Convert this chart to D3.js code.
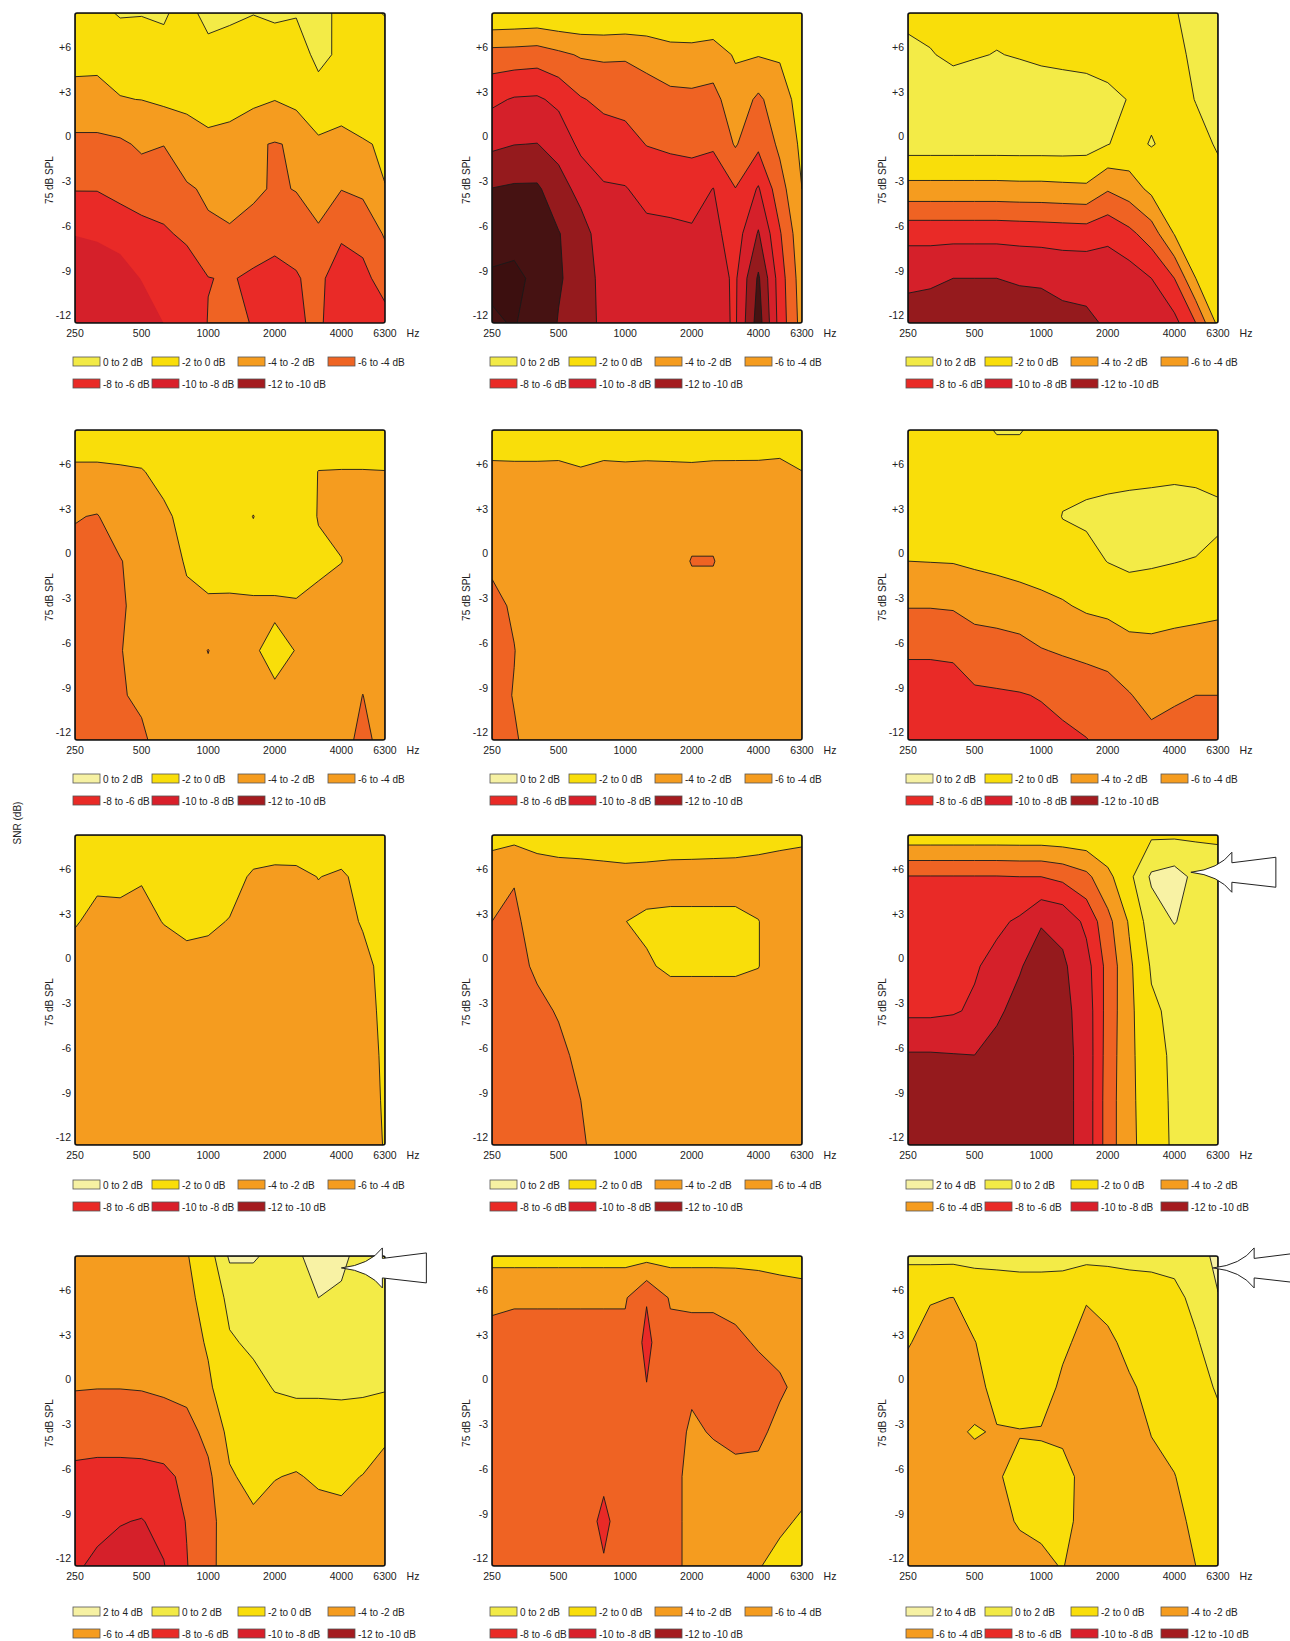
<!DOCTYPE html>
<html>
<head>
<meta charset="utf-8">
<script src="https://cdn.jsdelivr.net/npm/d3@7"></script>
<style>
  body { margin: 0; background: #fff; }
  text { font-family: "Liberation Sans", Arial, sans-serif; fill: #222; }
</style>
</head>
<body>
<svg id="chart" width="1290" height="1641"></svg>
<script>
// Grid: 1/3-octave frequencies (columns) by SNR rows (top to bottom)
const freqs = [250, 315, 400, 500, 630, 800, 1000, 1250, 1600, 2000, 2500, 3150, 4000, 5000, 6300];
const snrRows = [8.3, 5.5, 2.5, -0.5, -3.5, -6.5, -9.5, -12.5];
const xTicks = [250, 500, 1000, 2000, 4000, 6300];
const yTicks = [6, 3, 0, -3, -6, -9, -12];
const yTickLabels = ["+6", "+3", "0", "-3", "-6", "-9", "-12"];
const levels = [-16, -14, -12, -10, -8, -6, -4, -2, 0, 2, 4];

// Legend entries
const legendSeven = ["0 to 2 dB", "-2 to 0 dB", "-4 to -2 dB", "-6 to -4 dB", "-8 to -6 dB", "-10 to -8 dB", "-12 to -10 dB"];
const legendEight = ["2 to 4 dB", "0 to 2 dB", "-2 to 0 dB", "-4 to -2 dB", "-6 to -4 dB", "-8 to -6 dB", "-10 to -8 dB", "-12 to -10 dB"];

// Change in dB per column (each inner array: one frequency, SNR rows from +8.3 down to -12.5)
const p1 = [
  [-0.8, -1.72, -2.29, -4.6, -5.9, -7.95, -9.0, -9.5],
  [-0.6, -1.75, -2.29, -4.6, -5.9, -7.8, -8.9, -9.4],
  [0.2, -1.47, -2.05, -4.32, -5.5, -7.0, -9.2, -9.6],
  [0.15, -1.7, -1.98, -3.7, -5.06, -6.65, -7.9, -9.5],
  [0.15, -0.39, -1.63, -3.95, -5.2, -6.21, -7.3, -7.98],
  [-0.5, -1.2, -1.75, -2.51, -4.28, -5.7, -6.85, -7.4],
  [0.5, -0.5, -0.64, -2.8, -3.65, -4.38, -6.05, -5.93],
  [0.3, -0.7, -1.4, -2.6, -3.3, -4.2, -5.86, -5.5],
  [0.05, -1.0, -1.55, -3.79, -3.5, -5.0, -6.3, -6.1],
  [0.2, -0.63, -1.95, -4.1, -4.3, -5.4, -6.6, -6.8],
  [0.1, -0.73, -1.43, -3.81, -3.9, -5.3, -6.15, -6.3],
  [1.0, 0.4, -0.65, -2.34, -3.0, -4.3, -5.4, -5.6],
  [-0.72, -0.29, -1.0, -2.69, -3.95, -5.6, -7.4, -7.5],
  [-0.5, -0.5, -1.0, -2.15, -3.6, -5.34, -6.56, -7.2],
  [0.1, -1.15, -1.4, -1.8, -2.03, -3.8, -5.13, -6.77]
];
const p2 = [
  [-0.1, -4.8, -7.6, -9.6, -12.05, -13.1, -14.3, -13.8],
  [-0.2, -4.87, -8.17, -9.96, -12.28, -13.4, -14.4, -14.1],
  [-0.3, -5.03, -8.27, -10.04, -12.3, -13.0, -13.6, -13.3],
  [-0.1, -4.42, -7.54, -9.32, -10.8, -12.1, -12.2, -11.9],
  [-0.1, -3.81, -6.15, -7.51, -9.38, -10.8, -11.2, -11.3],
  [-0.1, -3.69, -5.54, -6.97, -8.2, -9.0, -9.3, -9.4],
  [-0.2, -3.77, -5.34, -6.72, -8.1, -8.8, -9.0, -9.1],
  [-0.3, -3.38, -4.87, -5.94, -7.4, -8.5, -8.9, -9.0],
  [-0.4, -2.7, -4.54, -5.65, -7.28, -8.4, -8.8, -8.9],
  [-0.4, -2.64, -4.45, -5.55, -7.0, -8.3, -8.6, -8.7],
  [-0.4, -2.92, -4.63, -5.6, -8.05, -8.6, -8.8, -8.8],
  [-1.0, -1.8, -2.82, -3.83, -6.05, -7.0, -7.7, -7.75],
  [-0.3, -1.9, -4.36, -5.55, -8.19, -10.17, -12.3, -13.0],
  [-0.5, -1.8, -2.9, -3.6, -4.8, -6.2, -7.0, -7.2],
  [-0.5, -0.8, -1.2, -1.6, -2.0, -2.5, -2.9, -3.2]
];
const p3 = [
  [-0.6, 0.6, 0.9, 0.9, -2.67, -7.4, -9.6, -10.8],
  [-0.5, 0.1, 0.9, 0.9, -2.67, -7.4, -9.6, -11.3],
  [-0.4, -0.3, 0.9, 0.9, -2.67, -7.4, -10.0, -11.5],
  [-0.4, -0.1, 0.9, 0.9, -2.67, -7.4, -10.0, -11.4],
  [-0.4, 0.05, 0.9, 0.9, -2.67, -7.4, -10.0, -11.3],
  [-0.4, -0.1, 0.9, 0.9, -2.6, -7.3, -9.8, -11.0],
  [-0.4, -0.3, 0.9, 0.9, -2.6, -7.2, -9.8, -10.7],
  [-0.4, -0.4, 0.8, 0.9, -2.5, -7.1, -9.5, -10.5],
  [-0.5, -0.5, 0.7, 0.8, -2.4, -7.0, -9.5, -10.3],
  [-0.6, -0.5, 0.3, 0.05, -3.8, -7.6, -9.0, -9.8],
  [-0.6, -0.5, -0.05, -0.5, -3.0, -6.5, -9.0, -9.5],
  [-0.7, -0.6, -0.4, 0.1, -1.5, -5.0, -8.0, -9.0],
  [-0.1, -0.5, -0.6, -0.5, -1.0, -1.9, -6.0, -8.6],
  [0.5, 0.4, 0.05, -0.5, -0.9, -1.4, -2.0, -6.0],
  [0.8, 0.7, 0.5, 0.15, -0.5, -0.9, -1.2, -1.5]
];
const p4 = [
  [-1.0, -2.3, -3.9, -4.5, -4.6, -4.6, -4.6, -4.5],
  [-1.0, -2.3, -4.1, -4.6, -4.7, -4.6, -4.6, -4.5],
  [-1.0, -2.2, -3.0, -4.1, -4.2, -4.05, -4.1, -4.3],
  [-0.9, -2.1, -2.8, -3.2, -3.5, -3.6, -3.8, -4.2],
  [-0.5, -1.5, -2.3, -3.0, -3.2, -3.3, -3.5, -3.5],
  [-0.5, -0.8, -1.5, -1.8, -2.4, -3.0, -3.3, -3.4],
  [-0.5, -0.6, -0.8, -1.2, -2.3, -4.05, -3.3, -3.2],
  [-0.5, -0.6, -0.8, -1.0, -2.4, -2.8, -3.0, -3.1],
  [-0.5, -0.6, -2.05, -1.0, -2.3, -2.2, -3.0, -3.2],
  [-0.5, -0.6, -0.7, -1.0, -2.3, -1.5, -2.28, -3.0],
  [-0.5, -0.6, -0.7, -1.0, -2.2, -2.05, -2.8, -3.0],
  [-0.3, -2.05, -2.1, -1.6, -2.5, -2.8, -3.0, -3.2],
  [-0.3, -2.1, -2.3, -1.97, -2.6, -2.9, -3.0, -3.2],
  [-0.3, -2.1, -2.5, -2.6, -2.8, -3.2, -4.02, -4.6],
  [-0.3, -2.05, -2.5, -2.6, -2.8, -3.0, -3.1, -3.2]
];
const p5 = [
  [-0.8, -2.44, -3.0, -3.8, -4.3, -4.5, -4.4, -4.2],
  [-0.8, -2.4, -2.9, -3.2, -3.85, -4.03, -3.95, -4.1],
  [-0.8, -2.4, -2.8, -3.0, -3.2, -3.3, -3.4, -3.6],
  [-0.8, -2.44, -2.8, -3.0, -3.1, -3.2, -3.3, -3.3],
  [-0.8, -2.15, -2.8, -3.0, -3.0, -3.1, -3.2, -3.2],
  [-0.8, -2.44, -2.8, -3.0, -3.0, -3.1, -3.2, -3.2],
  [-0.7, -2.4, -2.8, -3.0, -3.0, -3.1, -3.2, -3.2],
  [-0.6, -2.5, -2.8, -3.0, -3.0, -3.1, -3.2, -3.2],
  [-0.6, -2.45, -3.0, -3.5, -3.0, -3.1, -3.2, -3.2],
  [-0.6, -2.4, -3.6, -4.05, -3.6, -3.2, -3.2, -3.2],
  [-0.6, -2.5, -3.6, -4.05, -3.6, -3.2, -3.2, -3.2],
  [-0.5, -2.55, -3.0, -3.4, -3.2, -3.1, -3.2, -3.2],
  [-0.4, -2.6, -2.9, -3.0, -3.0, -3.1, -3.2, -3.2],
  [-0.3, -2.8, -2.9, -3.0, -3.0, -3.1, -3.2, -3.2],
  [-0.5, -2.03, -2.8, -3.0, -3.0, -3.1, -3.2, -3.2]
];
const p6 = [
  [-0.5, -0.8, -1.2, -2.0, -3.9, -5.8, -6.8, -7.2],
  [-0.5, -0.8, -1.2, -1.95, -3.9, -5.8, -6.8, -7.2],
  [-0.5, -0.8, -1.2, -1.9, -3.8, -5.7, -6.8, -7.2],
  [-0.5, -0.8, -1.2, -1.7, -3.3, -5.0, -6.3, -7.0],
  [0.1, -0.8, -1.1, -1.5, -3.1, -4.9, -6.2, -7.0],
  [0.1, -0.8, -1.0, -1.3, -2.8, -4.7, -6.1, -6.8],
  [-0.5, -0.7, -0.9, -1.1, -2.5, -4.1, -5.9, -6.6],
  [-0.5, -0.4, 0.05, -0.8, -2.2, -3.8, -5.5, -6.4],
  [-0.5, -0.5, 0.3, -0.6, -1.7, -3.5, -5.2, -6.05],
  [-0.5, -0.5, 0.5, 0.05, -1.5, -3.2, -4.9, -5.6],
  [-0.5, -0.5, 0.7, 0.3, -0.9, -2.8, -4.1, -5.0],
  [-0.5, -0.5, 0.9, 0.2, -1.0, -2.6, -3.4, -4.5],
  [-0.5, -0.4, 1.0, 0.05, -1.1, -2.9, -3.8, -4.6],
  [-0.5, -0.5, 0.9, -0.1, -1.3, -3.0, -4.0, -4.8],
  [-0.5, -0.4, 0.3, -0.4, -1.5, -3.1, -4.0, -4.8]
];
const p7 = [
  [-0.5, -1.2, -1.8, -3.13, -3.0, -3.0, -3.0, -3.0],
  [-0.5, -1.5, -2.66, -3.0, -3.0, -3.0, -3.0, -3.0],
  [-0.5, -1.5, -2.56, -3.0, -3.0, -3.0, -3.0, -3.0],
  [-0.5, -1.8, -2.8, -3.0, -3.0, -3.0, -3.0, -3.0],
  [-0.5, -1.2, -1.9, -3.3, -3.0, -3.0, -3.0, -3.0],
  [-0.5, -1.0, -1.5, -2.66, -3.0, -3.0, -3.0, -3.0],
  [-0.5, -1.0, -1.6, -2.85, -3.0, -3.0, -3.0, -3.0],
  [-0.5, -1.1, -2.1, -2.8, -3.0, -3.0, -3.0, -3.0],
  [-0.5, -2.33, -2.8, -3.0, -3.0, -3.0, -3.0, -3.0],
  [-0.5, -2.6, -2.8, -3.0, -3.0, -3.0, -3.0, -3.0],
  [-0.5, -2.55, -2.8, -3.0, -3.0, -3.0, -3.0, -3.0],
  [-0.5, -1.95, -2.66, -3.0, -3.0, -3.0, -3.0, -3.0],
  [-0.5, -2.33, -2.8, -3.0, -3.0, -3.0, -3.0, -3.0],
  [-0.5, -1.3, -1.8, -2.67, -2.8, -2.8, -2.8, -2.8],
  [-0.5, -0.8, -1.0, -1.3, -1.5, -1.7, -1.8, -1.9]
];
const p8 = [
  [-1.4, -3.0, -4.0, -4.5, -4.6, -4.6, -4.6, -4.6],
  [-1.4, -3.9, -4.3, -4.4, -4.5, -4.5, -4.5, -4.5],
  [-1.2, -3.0, -3.3, -3.8, -4.3, -4.5, -4.5, -4.5],
  [-0.84, -3.0, -3.2, -3.5, -3.9, -4.3, -4.5, -4.5],
  [-0.67, -3.0, -3.0, -3.2, -3.4, -3.7, -4.0, -4.1],
  [-0.33, -3.0, -3.0, -3.1, -3.2, -3.4, -3.6, -3.7],
  [-0.73, -2.6, -2.02, -2.6, -3.0, -3.0, -3.0, -3.0],
  [-0.53, -2.8, -1.7, -2.2, -3.0, -3.0, -3.0, -3.0],
  [-0.53, -3.0, -1.5, -1.7, -3.0, -3.0, -3.0, -3.0],
  [-0.6, -3.0, -1.5, -1.7, -3.0, -3.0, -3.0, -3.0],
  [-0.7, -3.0, -1.5, -1.7, -3.0, -3.0, -3.0, -3.0],
  [-0.8, -3.0, -1.5, -1.7, -3.0, -3.0, -3.0, -3.0],
  [-1.1, -3.0, -1.95, -1.95, -3.0, -3.0, -3.0, -3.0],
  [-1.4, -3.0, -3.0, -3.0, -3.0, -3.0, -3.0, -3.0],
  [-1.6, -3.0, -3.0, -3.0, -3.0, -3.0, -3.0, -3.0]
];
const p9 = [
  [-0.7, -6.1, -6.8, -7.2, -7.6, -10.2, -10.6, -10.8],
  [-0.7, -6.1, -6.8, -7.2, -7.6, -10.2, -10.6, -10.8],
  [-0.7, -6.1, -6.9, -7.4, -7.8, -10.1, -10.6, -10.8],
  [-0.7, -6.1, -7.2, -7.8, -8.3, -10.02, -10.5, -10.8],
  [-0.7, -6.1, -7.6, -8.6, -9.8, -10.4, -10.6, -10.8],
  [-0.7, -6.0, -8.3, -9.9, -10.4, -10.6, -10.7, -10.8],
  [-0.7, -6.0, -9.9, -10.6, -10.7, -10.8, -10.8, -10.8],
  [-0.6, -5.5, -9.5, -10.3, -10.5, -10.6, -10.6, -10.6],
  [-0.5, -4.5, -7.5, -8.8, -9.2, -9.3, -9.3, -9.3],
  [-0.3, -2.5, -4.6, -5.3, -5.2, -5.1, -5.0, -5.0],
  [-0.3, -0.5, -1.8, -2.4, -2.5, -2.5, -2.5, -2.5],
  [-0.3, 2.3, 1.0, 0.2, -0.3, -0.6, -0.8, -1.0],
  [-0.3, 2.8, 2.1, 0.6, 0.4, 0.3, 0.3, 0.3],
  [-0.3, 1.5, 1.2, 0.8, 0.6, 0.5, 0.4, 0.3],
  [-0.3, 1.0, 1.0, 0.8, 0.6, 0.5, 0.5, 0.4]
];
const p10 = [
  [-2.5, -2.8, -3.2, -3.9, -5.1, -6.5, -7.3, -7.8],
  [-2.5, -2.8, -3.2, -3.95, -5.2, -6.6, -7.6, -8.3],
  [-2.4, -2.7, -3.1, -3.95, -5.2, -6.6, -7.9, -8.8],
  [-2.3, -2.6, -3.0, -3.9, -5.1, -6.6, -8.1, -8.7],
  [-2.2, -2.5, -2.9, -3.7, -5.0, -6.4, -7.4, -8.1],
  [-2.1, -2.4, -2.8, -3.5, -4.6, -5.6, -5.9, -6.1],
  [-1.0, -1.4, -1.8, -2.3, -3.5, -4.4, -4.5, -4.3],
  [2.3, 0.5, -0.2, -0.8, -1.5, -2.2, -3.2, -3.5],
  [2.2, 1.0, 0.3, -0.5, -1.0, -1.5, -2.3, -2.6],
  [1.5, 1.0, 0.6, 0.1, -0.8, -1.95, -2.5, -2.7],
  [1.8, 1.2, 0.8, 0.4, -1.2, -2.1, -2.5, -2.7],
  [2.5, 2.0, 1.0, 0.2, -0.6, -1.8, -2.5, -2.7],
  [2.3, 1.8, 1.0, 0.2, -0.5, -1.7, -2.4, -2.6],
  [1.5, 1.2, 0.8, 0.3, -1.0, -2.05, -2.5, -2.7],
  [1.0, 0.8, 0.6, 0.2, -1.7, -2.6, -2.8, -2.9]
];
const p11 = [
  [-1.3, -3.8, -4.3, -4.3, -4.3, -4.4, -4.6, -4.6],
  [-1.3, -3.8, -4.6, -4.8, -4.8, -4.8, -4.8, -4.8],
  [-1.3, -3.8, -4.6, -4.8, -4.8, -4.8, -4.8, -4.8],
  [-1.3, -3.8, -4.6, -4.8, -4.8, -4.8, -4.8, -4.8],
  [-1.3, -3.8, -4.6, -4.8, -4.8, -4.8, -4.8, -4.8],
  [-1.3, -3.8, -4.6, -4.8, -4.8, -5.6, -6.5, -5.8],
  [-1.3, -3.8, -4.6, -4.8, -4.8, -4.8, -4.8, -4.8],
  [-1.3, -5.9, -6.4, -5.95, -4.8, -4.8, -4.8, -4.8],
  [-1.3, -3.8, -4.6, -4.6, -4.6, -4.6, -4.6, -4.6],
  [-1.3, -3.8, -4.4, -4.2, -3.8, -3.5, -3.5, -3.5],
  [-1.3, -3.8, -4.4, -4.4, -4.1, -3.5, -3.2, -3.2],
  [-1.3, -3.7, -4.2, -4.3, -4.2, -3.8, -3.0, -2.6],
  [-1.2, -3.5, -3.9, -4.4, -4.3, -3.6, -2.8, -2.1],
  [-1.0, -3.2, -3.6, -4.2, -3.6, -3.0, -2.3, -1.5],
  [-0.8, -3.0, -3.4, -3.6, -3.2, -2.6, -1.8, -1.2]
];
const p12 = [
  [0.5, -1.9, -1.9, -2.6, -2.7, -2.7, -2.7, -2.7],
  [0.5, -1.9, -2.5, -2.7, -2.7, -2.7, -2.7, -2.7],
  [0.5, -2.02, -2.5, -2.6, -2.2, -2.6, -2.7, -2.7],
  [0.5, -1.2, -2.05, -2.5, -1.9, -2.5, -2.7, -2.7],
  [0.5, -1.0, -1.2, -1.5, -2.1, -2.1, -2.3, -2.6],
  [0.5, -0.8, -1.0, -1.3, -2.05, -1.7, -1.9, -2.4],
  [0.5, -0.8, -1.0, -1.3, -2.1, -1.6, -1.8, -2.2],
  [0.5, -0.9, -1.7, -2.3, -2.3, -1.5, -1.5, -1.95],
  [0.5, -1.9, -2.5, -2.7, -2.7, -2.5, -2.6, -2.6],
  [0.5, -1.5, -2.3, -2.7, -2.8, -2.8, -2.8, -2.8],
  [0.5, -1.0, -1.6, -2.2, -2.7, -2.8, -2.8, -2.8],
  [0.5, -0.8, -1.2, -1.6, -1.95, -2.4, -2.7, -2.8],
  [0.6, -0.5, -0.8, -1.1, -1.5, -2.05, -2.5, -2.7],
  [1.0, 0.5, -0.2, -0.7, -1.0, -1.3, -1.6, -2.0],
  [2.6, 1.9, 1.0, 0.2, -0.5, -0.8, -1.0, -1.2]
];

// Fill colour of each band, keyed by its lower bound
const bandColor = {
  "-16": "#3c0f0f", "-14": "#461212", "-12": "#951a1d", "-10": "#d5202a",
  "-8": "#e92a27", "-6": "#ef6323", "-4": "#f59c1f", "-2": "#f9de0a",
  "0": "#f3eb47", "2": "#f8f2a4", "4": "#fbf8d0"
};
// Legend swatch colours
const swatchSevenDark = ["#f2ea46", "#f9de0a", "#f59c1f", "#ef6423", "#e92a26", "#d91f2a", "#a41b1f"];
const swatchSevenLight = ["#f2ea46", "#f9de0a", "#f59c1f", "#f59c1f", "#e92a26", "#d91f2a", "#a41b1f"];
const swatchSevenPale = ["#f6f1a3", "#f9de0a", "#f59c1f", "#f59c1f", "#e92a26", "#d91f2a", "#a41b1f"];
const swatchEight = ["#f6f1a3", "#f2ea46", "#f9de0a", "#f59c1f", "#f59c1f", "#e92a26", "#d91f2a", "#a41b1f"];

const panels = [
  { data: p1, labels: legendSeven, swatch: swatchSevenDark, unlined: [-8] },
  { data: p2, labels: legendSeven, swatch: swatchSevenLight, unlined: [] },
  { data: p3, labels: legendSeven, swatch: swatchSevenLight, unlined: [] },
  { data: p4, labels: legendSeven, swatch: swatchSevenPale, unlined: [] },
  { data: p5, labels: legendSeven, swatch: swatchSevenPale, unlined: [] },
  { data: p6, labels: legendSeven, swatch: swatchSevenPale, unlined: [] },
  { data: p7, labels: legendSeven, swatch: swatchSevenPale, unlined: [] },
  { data: p8, labels: legendSeven, swatch: swatchSevenPale, unlined: [] },
  { data: p9, labels: legendEight, swatch: swatchEight, unlined: [] },
  { data: p10, labels: legendEight, swatch: swatchEight, unlined: [] },
  { data: p11, labels: legendSeven, swatch: swatchSevenLight, unlined: [] },
  { data: p12, labels: legendEight, swatch: swatchEight, unlined: [] }
];

// Arrows marking a point (frequency, SNR) in a panel
const arrows = [
  { panel: 8, freq: 4750, snr: 5.8 },
  { panel: 9, freq: 4000, snr: 7.5 },
  { panel: 11, freq: 5990, snr: 7.5 }
];

// ---- layout ----
const W = 310, H = 310;
const colLeft = [75, 492, 908];
const rowTop = [13, 430, 835, 1256];
const legendTop = [357, 774, 1180, 1607];
const swatchOffsets = [-2, 77, 163, 253];

const svg = d3.select("#chart");
const x = d3.scaleLog().domain([250, 6300]).range([0, W]);
const y = d3.scaleLinear().domain([-12.5, 8.3]).range([H, 0]);

const nx = freqs.length, ny = snrRows.length;
const colToLogF = d3.scaleLinear().domain(d3.range(nx)).range(freqs.map(Math.log));
const rowToSnr = d3.scaleLinear().domain(d3.range(ny)).range(snrRows);
const gridProjection = d3.geoTransform({
  point(gx, gy) {
    const ci = Math.max(0, Math.min(nx - 1, gx - 0.5));
    const ri = Math.max(0, Math.min(ny - 1, gy - 0.5));
    this.stream.point(x(Math.exp(colToLogF(ci))), y(rowToSnr(ri)));
  }
});
const gridPath = d3.geoPath(gridProjection);
const contourGen = d3.contours().size([nx, ny]).thresholds(levels);

svg.append("defs").append("clipPath").attr("id", "plotClip")
  .append("rect").attr("width", W).attr("height", H);

panels.forEach((p, i) => {
  const left = colLeft[i % 3], top = rowTop[Math.floor(i / 3)];
  const g = svg.append("g").attr("transform", `translate(${left},${top})`);

  const values = d3.transpose(p.data).flat();
  const plot = g.append("g").attr("clip-path", "url(#plotClip)");
  plot.append("rect").attr("width", W).attr("height", H).attr("fill", bandColor["-16"]);
  contourGen(values).forEach(c => {
    if (!c.coordinates.length) return;
    plot.append("path")
      .attr("d", gridPath(c))
      .attr("fill", bandColor[String(c.value)])
      .attr("stroke", p.unlined.includes(c.value) ? "none" : "#1a1a1a")
      .attr("stroke-width", 0.9)
      .attr("stroke-linejoin", "round");
  });

  g.append("rect").attr("width", W).attr("height", H)
    .attr("fill", "none").attr("stroke", "#111").attr("stroke-width", 1.6).attr("rx", 2);

  // frequency axis labels
  g.selectAll(".xt").data(xTicks).enter().append("text")
    .attr("x", d => x(d)).attr("y", H + 14)
    .attr("text-anchor", "middle").attr("font-size", 10.5).text(d => d);
  g.append("text").attr("x", W + 28).attr("y", H + 14)
    .attr("text-anchor", "middle").attr("font-size", 10.5).text("Hz");

  // SNR axis labels
  g.selectAll(".yt").data(yTicks).enter().append("text")
    .attr("x", -4).attr("y", d => y(d)).attr("dy", "0.35em")
    .attr("text-anchor", "end").attr("font-size", 10.5)
    .text((d, k) => yTickLabels[k]);
  g.append("text")
    .attr("transform", `translate(-22,${H / 2 + 12}) rotate(-90)`)
    .attr("text-anchor", "middle").attr("font-size", 10).text("75 dB SPL");

  // legend
  const lg = svg.append("g").attr("transform", `translate(${left},${legendTop[Math.floor(i / 3)]})`);
  p.labels.forEach((lab, k) => {
    const row = Math.floor(k / 4), col = k % 4;
    const sx = swatchOffsets[col], sy = row * 22;
    lg.append("rect").attr("x", sx).attr("y", sy).attr("width", 27).attr("height", 9)
      .attr("fill", p.swatch[k]).attr("stroke", "#555").attr("stroke-width", 0.8);
    lg.append("text").attr("x", sx + 30).attr("y", sy + 8.5)
      .attr("font-size", 10).text(lab);
  });
});

// overall axis title
svg.append("text").attr("transform", "translate(21,823) rotate(-90)")
  .attr("text-anchor", "middle").attr("font-size", 10).text("SNR (dB)");

// arrows
arrows.forEach(a => {
  const left = colLeft[a.panel % 3], top = rowTop[Math.floor(a.panel / 3)];
  const tx = left + x(a.freq), ty = top + y(a.snr);
  const d = `M${tx},${ty} Q${tx + 28},${ty - 3} ${tx + 41},${ty - 20} L${tx + 41},${ty - 9.5} ` +
    `L${tx + 85},${ty - 15} L${tx + 85},${ty + 15} L${tx + 41},${ty + 10} L${tx + 41},${ty + 20} ` +
    `Q${tx + 28},${ty + 3} ${tx},${ty} Z`;
  svg.append("path").attr("d", d).attr("fill", "#fff").attr("stroke", "#222").attr("stroke-width", 1);
});
</script>
</body>
</html>
